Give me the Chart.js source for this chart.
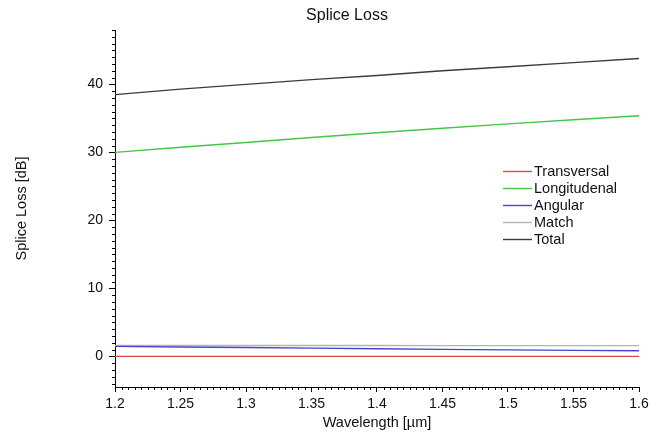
<!DOCTYPE html>
<html>
<head>
<meta charset="utf-8">
<script src="https://cdn.jsdelivr.net/npm/chart.js@4.4.0/dist/chart.umd.min.js"></script>
<style>
  html, body { margin: 0; padding: 0; background: #fff; }
  #wrap { width: 650px; height: 434px; position: relative; }
</style>
</head>
<body>
<div id="wrap"><canvas id="splice-chart"></canvas></div>
<script>
// Wavelength samples [µm]
const wavelengths = [1.2, 1.25, 1.3, 1.35, 1.4, 1.45, 1.5, 1.55, 1.6];

// Loss contributions [dB]
const transversal  = [0, 0, 0, 0, 0, 0, 0, 0, 0];
const longitudinal = [30.0, 30.75, 31.45, 32.2, 32.9, 33.55, 34.2, 34.8, 35.4];
const angular      = [1.48, 1.38, 1.30, 1.22, 1.12, 1.04, 0.96, 0.88, 0.84];
const match        = [1.6, 1.6, 1.6, 1.6, 1.6, 1.59, 1.59, 1.58, 1.58];
const total        = [38.5, 39.3, 40.0, 40.7, 41.3, 42.0, 42.6, 43.2, 43.8];

const seriesNames = ['Transversal', 'Longitudenal', 'Angular', 'Match', 'Total'];
const seriesColors = ['#e04848', '#44c844', '#4646cc', '#b4b4b4', '#3c3c3c'];

const xTicks = [1.2, 1.25, 1.3, 1.35, 1.4, 1.45, 1.5, 1.55, 1.6];
const yTicks = [0, 10, 20, 30, 40];

const FONT = '"Liberation Sans", Arial, sans-serif';

function points(values) {
  return wavelengths.map((w, i) => ({ x: w, y: values[i] }));
}

const allSeries = [transversal, longitudinal, angular, match, total];

// Title, minor ticks and the in-plot legend
const decorations = {
  id: 'decorations',
  afterDraw(chart) {
    const ctx = chart.ctx;
    const area = chart.chartArea;
    const xs = chart.scales.x;
    const ys = chart.scales.y;
    ctx.save();

    // minor ticks
    ctx.strokeStyle = '#000';
    ctx.lineWidth = 1;
    ctx.beginPath();
    for (let v = Math.ceil(ys.min); v <= ys.max; v++) {
      if (v % 10 === 0) continue;
      const py = Math.round(ys.getPixelForValue(v)) + 0.5;
      ctx.moveTo(area.left - 3, py);
      ctx.lineTo(area.left, py);
    }
    for (let i = 0; i <= 80; i++) {
      if (i % 10 === 0) continue;
      const px = Math.round(xs.getPixelForValue(1.2 + i * 0.005)) + 0.5;
      ctx.moveTo(px, area.bottom);
      ctx.lineTo(px, area.bottom + 3);
    }
    ctx.stroke();

    // title
    ctx.fillStyle = '#111';
    ctx.font = '16px ' + FONT;
    ctx.textAlign = 'center';
    ctx.textBaseline = 'middle';
    ctx.fillText('Splice Loss', 347, 16);

    // legend
    ctx.font = '14.5px ' + FONT;
    ctx.textAlign = 'left';
    const lx = area.right - 136;
    const ly = area.top + 141;
    chart.data.datasets.forEach((ds, i) => {
      const y = ly + i * 17;
      ctx.strokeStyle = ds.borderColor;
      ctx.lineWidth = 1.4;
      ctx.beginPath();
      ctx.moveTo(lx, y + 0.5);
      ctx.lineTo(lx + 29, y + 0.5);
      ctx.stroke();
      ctx.fillStyle = '#111';
      ctx.fillText(ds.label, lx + 31, y + 1);
    });
    ctx.restore();
  }
};

new Chart(document.getElementById('splice-chart'), {
  type: 'line',
  data: {
    datasets: allSeries.map((vals, i) => ({
      label: seriesNames[i],
      data: points(vals),
      borderColor: seriesColors[i],
      backgroundColor: seriesColors[i],
      borderWidth: 1.4,
      pointRadius: 0,
      tension: 0,
      fill: false
    }))
  },
  options: {
    responsive: true,
    maintainAspectRatio: false,
    animation: false,
    layout: { padding: { top: 30, right: 11, left: 0, bottom: 0 } },
    plugins: {
      legend: { display: false },
      title: { display: false },
      tooltip: { enabled: false }
    },
    scales: {
      x: {
        type: 'linear',
        min: 1.2,
        max: 1.6,
        afterBuildTicks: scale => { scale.ticks = xTicks.map(v => ({ value: v })); },
        afterFit: scale => {
          scale.height = 47;
          scale.paddingLeft = 0;
          scale.paddingRight = 0;
        },
        ticks: {
          color: '#111',
          font: { family: FONT, size: 14 },
          padding: 4,
          maxRotation: 0,
          autoSkip: false,
          callback: v => String(+v.toFixed(2))
        },
        grid: { drawOnChartArea: false, drawTicks: true, tickLength: 5, tickColor: '#000' },
        border: { display: true, color: '#000', width: 1 },
        title: {
          display: true,
          text: 'Wavelength [µm]',
          color: '#111',
          font: { family: FONT, size: 14.5 },
          padding: { top: 0, bottom: 2 }
        }
      },
      y: {
        min: -4.5,
        max: 48,
        afterBuildTicks: scale => { scale.ticks = yTicks.map(v => ({ value: v })); },
        afterFit: scale => {
          scale.width = 115;
          scale.paddingTop = 0;
          scale.paddingBottom = 0;
        },
        ticks: {
          color: '#111',
          font: { family: FONT, size: 14 },
          padding: 6,
          callback: v => String(v)
        },
        grid: { drawOnChartArea: false, drawTicks: true, tickLength: 6, tickColor: '#000' },
        border: { display: true, color: '#000', width: 1 },
        title: {
          display: true,
          text: 'Splice Loss [dB]',
          color: '#111',
          font: { family: FONT, size: 14.5 },
          padding: { top: 13, bottom: 0 }
        }
      }
    }
  },
  plugins: [decorations]
});
</script>
</body>
</html>
